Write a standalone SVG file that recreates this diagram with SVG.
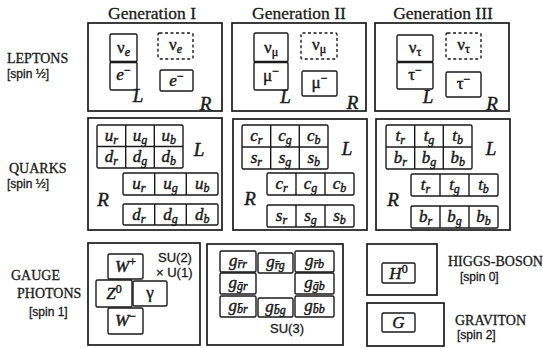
<svg xmlns="http://www.w3.org/2000/svg" width="543" height="348" viewBox="0 0 543 348">
<style>
.bg{fill:#fff}
.box{fill:none;stroke:#1a1a1a;stroke-width:1.7}
.cell{fill:none;stroke:#1a1a1a;stroke-width:1.4}
.dash{stroke-dasharray:3 2.5}
.div{stroke:#1a1a1a;stroke-width:2.6}
text{fill:#1a1a1a;stroke:#1a1a1a;stroke-width:0.3}
.hdr{font-family:"Liberation Serif",serif;font-size:17.5px}
.lbl{font-family:"Liberation Serif",serif;font-size:14px}
.spin{font-family:"Liberation Sans",sans-serif;font-size:12px}
.grp{font-family:"Liberation Sans",sans-serif;font-size:13px}
.p{font-family:"Liberation Serif",serif;font-size:17px;font-style:italic;text-anchor:middle;stroke-width:0.45}
.g{font-family:"Liberation Serif",serif;font-size:17px;font-style:normal;text-anchor:middle;stroke-width:0.45}
.s{font-size:12px}
.u{font-style:normal}
.lr{font-family:"Liberation Serif",serif;font-size:19px;font-style:italic;text-anchor:middle;stroke-width:0.45}
</style>
<rect class="bg" width="543" height="348"/>
<g id="headers">
<text class="hdr" x="152" y="19" text-anchor="middle">Generation I</text>
<text class="hdr" x="299" y="19" text-anchor="middle">Generation II</text>
<text class="hdr" x="443" y="19" text-anchor="middle">Generation III</text>
</g>
<g id="row-labels">
<text class="lbl" x="7" y="63">LEPTONS</text>
<text class="spin" x="7" y="78">[spin ½]</text>
<text class="lbl" x="9" y="173">QUARKS</text>
<text class="spin" x="7" y="188">[spin ½]</text>
<text class="lbl" x="11" y="280">GAUGE</text>
<text class="lbl" x="17" y="298">PHOTONS</text>
<text class="spin" x="29" y="316">[spin 1]</text>
</g>
<g id="leptons-gen1">
<rect class="box" x="88" y="23" width="134" height="88"/>
<rect class="cell" x="110" y="34" width="27" height="28" rx="1.5"/>
<rect class="cell" x="110" y="62" width="27" height="28" rx="1.5"/>
<line class="div" x1="110" y1="62" x2="137" y2="62"/>
<text class="g" x="123.5" y="53">ν<tspan class="s" font-style="italic" dy="3">e</tspan></text>
<text class="p" x="123.5" y="80">e<tspan class="s u" dy="-6">−</tspan></text>
<rect class="cell dash" x="158" y="33" width="35" height="26" rx="1.5"/>
<text class="g" x="175.5" y="50">ν<tspan class="s" font-style="italic" dy="3">e</tspan></text>
<rect class="cell" x="160" y="70" width="33" height="21" rx="1.5"/>
<text class="p" x="176.5" y="86">e<tspan class="s u" dy="-6">−</tspan></text>
<text class="lr" x="138" y="102">L</text>
<text class="lr" x="205.5" y="110">R</text>
</g>
<g id="leptons-gen2">
<rect class="box" x="232" y="23" width="134" height="88"/>
<rect class="cell" x="254" y="33" width="34" height="29" rx="1.5"/>
<rect class="cell" x="254" y="62" width="34" height="28" rx="1.5"/>
<line class="div" x1="254" y1="62" x2="288" y2="62"/>
<text class="g" x="271" y="53">ν<tspan class="s" dy="3">μ</tspan></text>
<text class="g" x="271" y="81">μ<tspan class="s" dy="-6">−</tspan></text>
<rect class="cell dash" x="301" y="33" width="36" height="26" rx="1.5"/>
<text class="g" x="319" y="50">ν<tspan class="s" dy="3">μ</tspan></text>
<rect class="cell" x="302" y="71" width="35" height="25" rx="1.5"/>
<text class="g" x="319.5" y="88">μ<tspan class="s" dy="-6">−</tspan></text>
<text class="lr" x="285.5" y="103">L</text>
<text class="lr" x="352.5" y="109">R</text>
</g>
<g id="leptons-gen3">
<rect class="box" x="375" y="23" width="134" height="88"/>
<rect class="cell" x="397" y="35" width="36" height="27" rx="1.5"/>
<rect class="cell" x="397" y="62" width="36" height="27" rx="1.5"/>
<line class="div" x1="397" y1="62" x2="433" y2="62"/>
<text class="g" x="415" y="53">ν<tspan class="s" dy="3">τ</tspan></text>
<text class="g" x="415" y="80">τ<tspan class="s" dy="-6">−</tspan></text>
<rect class="cell dash" x="446" y="33" width="35" height="26" rx="1.5"/>
<text class="g" x="463.5" y="50">ν<tspan class="s" dy="3">τ</tspan></text>
<rect class="cell" x="446" y="72" width="35" height="25" rx="1.5"/>
<text class="g" x="463.5" y="89">τ<tspan class="s" dy="-6">−</tspan></text>
<text class="lr" x="428" y="103">L</text>
<text class="lr" x="492" y="110">R</text>
</g>
<g id="quarks-gen1">
<rect class="box" x="88" y="118" width="134" height="112"/>
<rect class="cell" x="97" y="125" width="86" height="43" rx="1.5"/>
<line class="cell" x1="97" y1="146.5" x2="183" y2="146.5"/>
<line class="cell" x1="125.7" y1="125" x2="125.7" y2="168"/>
<line class="cell" x1="154.3" y1="125" x2="154.3" y2="168"/>
<text class="p" x="111.3" y="141">u<tspan class="s" dy="3">r</tspan></text>
<text class="p" x="140" y="141">u<tspan class="s" dy="3">g</tspan></text>
<text class="p" x="168.7" y="141">u<tspan class="s" dy="3">b</tspan></text>
<text class="p" x="111.3" y="162">d<tspan class="s" dy="3">r</tspan></text>
<text class="p" x="140" y="162">d<tspan class="s" dy="3">g</tspan></text>
<text class="p" x="168.7" y="162">d<tspan class="s" dy="3">b</tspan></text>
<text class="lr" x="199" y="156">L</text>
<rect class="cell" x="123" y="173" width="95" height="22" rx="1.5"/>
<line class="cell" x1="154.7" y1="173" x2="154.7" y2="195"/>
<line class="cell" x1="186.3" y1="173" x2="186.3" y2="195"/>
<text class="p" x="138.8" y="189">u<tspan class="s" dy="3">r</tspan></text>
<text class="p" x="170.5" y="189">u<tspan class="s" dy="3">g</tspan></text>
<text class="p" x="202.2" y="189">u<tspan class="s" dy="3">b</tspan></text>
<rect class="cell" x="123" y="204" width="95" height="21" rx="1.5"/>
<line class="cell" x1="154.7" y1="204" x2="154.7" y2="225"/>
<line class="cell" x1="186.3" y1="204" x2="186.3" y2="225"/>
<text class="p" x="138.8" y="220">d<tspan class="s" dy="3">r</tspan></text>
<text class="p" x="170.5" y="220">d<tspan class="s" dy="3">g</tspan></text>
<text class="p" x="202.2" y="220">d<tspan class="s" dy="3">b</tspan></text>
<text class="lr" x="103" y="206">R</text>
</g>
<g id="quarks-gen2">
<rect class="box" x="233" y="119" width="134" height="111"/>
<rect class="cell" x="242" y="125" width="86" height="44" rx="1.5"/>
<line class="cell" x1="242" y1="147" x2="328" y2="147"/>
<line class="cell" x1="270.7" y1="125" x2="270.7" y2="169"/>
<line class="cell" x1="299.3" y1="125" x2="299.3" y2="169"/>
<text class="p" x="256.3" y="141">c<tspan class="s" dy="3">r</tspan></text>
<text class="p" x="285" y="141">c<tspan class="s" dy="3">g</tspan></text>
<text class="p" x="313.7" y="141">c<tspan class="s" dy="3">b</tspan></text>
<text class="p" x="256.3" y="163">s<tspan class="s" dy="3">r</tspan></text>
<text class="p" x="285" y="163">s<tspan class="s" dy="3">g</tspan></text>
<text class="p" x="313.7" y="163">s<tspan class="s" dy="3">b</tspan></text>
<text class="lr" x="347" y="155">L</text>
<rect class="cell" x="267" y="173" width="87" height="22" rx="1.5"/>
<line class="cell" x1="296" y1="173" x2="296" y2="195"/>
<line class="cell" x1="325" y1="173" x2="325" y2="195"/>
<text class="p" x="281.5" y="189">c<tspan class="s" dy="3">r</tspan></text>
<text class="p" x="310.5" y="189">c<tspan class="s" dy="3">g</tspan></text>
<text class="p" x="339.5" y="189">c<tspan class="s" dy="3">b</tspan></text>
<rect class="cell" x="267" y="205" width="87" height="22" rx="1.5"/>
<line class="cell" x1="296" y1="205" x2="296" y2="227"/>
<line class="cell" x1="325" y1="205" x2="325" y2="227"/>
<text class="p" x="281.5" y="221">s<tspan class="s" dy="3">r</tspan></text>
<text class="p" x="310.5" y="221">s<tspan class="s" dy="3">g</tspan></text>
<text class="p" x="339.5" y="221">s<tspan class="s" dy="3">b</tspan></text>
<text class="lr" x="250" y="205">R</text>
</g>
<g id="quarks-gen3">
<rect class="box" x="376" y="119" width="134" height="111"/>
<rect class="cell" x="386" y="125" width="86" height="44" rx="1.5"/>
<line class="cell" x1="386" y1="147" x2="472" y2="147"/>
<line class="cell" x1="414.7" y1="125" x2="414.7" y2="169"/>
<line class="cell" x1="443.3" y1="125" x2="443.3" y2="169"/>
<text class="p" x="400.3" y="141">t<tspan class="s" dy="3">r</tspan></text>
<text class="p" x="429" y="141">t<tspan class="s" dy="3">g</tspan></text>
<text class="p" x="457.7" y="141">t<tspan class="s" dy="3">b</tspan></text>
<text class="p" x="400.3" y="163">b<tspan class="s" dy="3">r</tspan></text>
<text class="p" x="429" y="163">b<tspan class="s" dy="3">g</tspan></text>
<text class="p" x="457.7" y="163">b<tspan class="s" dy="3">b</tspan></text>
<text class="lr" x="491" y="155">L</text>
<rect class="cell" x="411" y="174" width="87" height="22" rx="1.5"/>
<line class="cell" x1="440" y1="174" x2="440" y2="196"/>
<line class="cell" x1="469" y1="174" x2="469" y2="196"/>
<text class="p" x="425.5" y="190">t<tspan class="s" dy="3">r</tspan></text>
<text class="p" x="454.5" y="190">t<tspan class="s" dy="3">g</tspan></text>
<text class="p" x="483.5" y="190">t<tspan class="s" dy="3">b</tspan></text>
<rect class="cell" x="411" y="206" width="87" height="22" rx="1.5"/>
<line class="cell" x1="440" y1="206" x2="440" y2="228"/>
<line class="cell" x1="469" y1="206" x2="469" y2="228"/>
<text class="p" x="425.5" y="222">b<tspan class="s" dy="3">r</tspan></text>
<text class="p" x="454.5" y="222">b<tspan class="s" dy="3">g</tspan></text>
<text class="p" x="483.5" y="222">b<tspan class="s" dy="3">b</tspan></text>
<text class="lr" x="393" y="206">R</text>
</g>
<g id="electroweak">
<rect class="box" x="88" y="243" width="112" height="102"/>
<rect class="cell" x="108" y="254" width="35" height="25" rx="1.5"/>
<text class="p" x="125.5" y="272">W<tspan class="s u" dy="-6">+</tspan></text>
<rect class="cell" x="96" y="280" width="36" height="27" rx="1.5"/>
<text class="p" x="114" y="299">Z<tspan class="s u" dy="-6">0</tspan></text>
<rect class="cell" x="133" y="281" width="34" height="25" rx="1.5"/>
<text class="g" x="150" y="298">γ</text>
<rect class="cell" x="108" y="308" width="35" height="26" rx="1.5"/>
<text class="p" x="125.5" y="326">W<tspan class="s u" dy="-6">−</tspan></text>
<text class="grp" x="158" y="262">SU(2)</text>
<text class="grp" x="156" y="277">× U(1)</text>
</g>
<g id="gluons">
<rect class="box" x="207" y="244" width="136" height="101"/>
<rect class="cell" x="220" y="251" width="36" height="21" rx="1.5"/>
<rect class="cell" x="258" y="253" width="35" height="20" rx="1.5"/>
<rect class="cell" x="295" y="251" width="39" height="21" rx="1.5"/>
<rect class="cell" x="220" y="273" width="36" height="21" rx="1.5"/>
<rect class="cell" x="295" y="273" width="39" height="21" rx="1.5"/>
<rect class="cell" x="220" y="296" width="36" height="21" rx="1.5"/>
<rect class="cell" x="258" y="298" width="35" height="19" rx="1.5"/>
<rect class="cell" x="295" y="296" width="39" height="21" rx="1.5"/>
<text class="p" x="238" y="266">g<tspan class="s" dy="2">r̄r</tspan></text>
<text class="p" x="275.5" y="267">g<tspan class="s" dy="2">r̄g</tspan></text>
<text class="p" x="314.5" y="266">g<tspan class="s" dy="2">r̄b</tspan></text>
<text class="p" x="238" y="288">g<tspan class="s" dy="2">ḡr</tspan></text>
<text class="p" x="314.5" y="288">g<tspan class="s" dy="2">ḡb</tspan></text>
<text class="p" x="238" y="311">g<tspan class="s" dy="2">b̄r</tspan></text>
<text class="p" x="275.5" y="312">g<tspan class="s" dy="2">b̄g</tspan></text>
<text class="p" x="314.5" y="311">g<tspan class="s" dy="2">b̄b</tspan></text>
<text class="grp" x="287" y="333" text-anchor="middle">SU(3)</text>
</g>
<g id="higgs">
<rect class="box" x="367" y="244" width="70" height="51"/>
<rect class="cell" x="382" y="263" width="33" height="20" rx="1.5"/>
<text class="p" x="398.5" y="279">H<tspan class="s u" dy="-6">0</tspan></text>
<text class="lbl" x="448" y="266">HIGGS-BOSON</text>
<text class="spin" x="460" y="281">[spin 0]</text>
</g>
<g id="graviton">
<rect class="box" x="367" y="303" width="77" height="43"/>
<rect class="cell" x="382" y="313" width="33" height="19" rx="1.5"/>
<text class="p" x="398.5" y="328">G</text>
<text class="lbl" x="455" y="325">GRAVITON</text>
<text class="spin" x="457" y="339">[spin 2]</text>
</g>
<g id="connectors"/>
</svg>
